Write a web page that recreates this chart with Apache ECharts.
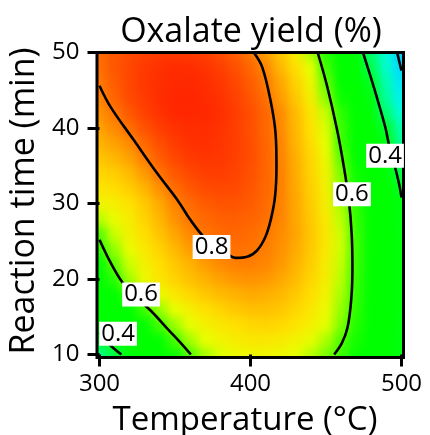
<!DOCTYPE html>
<html><head><meta charset="utf-8">
<script src="https://cdn.jsdelivr.net/npm/echarts@6/dist/echarts.min.js"></script>
<style>
html,body{margin:0;padding:0;background:#fff;width:430px;height:435px;overflow:hidden}
#clip{position:absolute;left:98px;top:54px;width:305px;height:302px;overflow:hidden}
#bg{position:absolute;left:-98px;top:-54px;width:430px;height:435px;filter:blur(5px)}
#fg{position:absolute;left:0;top:0;width:430px;height:435px}
</style></head><body>
<div id="clip"><div id="bg"></div></div>
<div id="fg"></div>
<script>
// ---- data ----
const temperatures = [300,310,320,330,340,350,360,370,380,390,400,410,420,430,440,450,460,470,480,490,500];
const reactionTimes = [10,12,14,16,18,20,22,24,26,28,30,32,34,36,38,40,42,44,46,48,50];
// oxalate yield, one row per reaction time (10 .. 50 min), columns = temperatures
const oxalateYield = [
 [0.345,0.378,0.421,0.467,0.512,0.556,0.598,0.628,0.646,0.658,0.664,0.665,0.660,0.650,0.635,0.614,0.588,0.553,0.510,0.460,0.405],
 [0.390,0.428,0.468,0.508,0.552,0.594,0.628,0.650,0.667,0.680,0.688,0.690,0.684,0.672,0.655,0.631,0.601,0.562,0.516,0.463,0.410],
 [0.420,0.465,0.510,0.552,0.592,0.625,0.651,0.672,0.688,0.700,0.709,0.714,0.708,0.695,0.675,0.649,0.616,0.572,0.521,0.468,0.415],
 [0.452,0.497,0.543,0.587,0.623,0.652,0.676,0.697,0.714,0.727,0.736,0.736,0.728,0.712,0.690,0.660,0.623,0.577,0.525,0.472,0.420],
 [0.480,0.532,0.585,0.628,0.660,0.687,0.709,0.727,0.741,0.751,0.758,0.755,0.745,0.727,0.702,0.670,0.630,0.581,0.528,0.473,0.420],
 [0.505,0.575,0.628,0.662,0.690,0.714,0.735,0.752,0.765,0.774,0.778,0.773,0.761,0.741,0.713,0.678,0.635,0.584,0.529,0.473,0.420],
 [0.540,0.604,0.640,0.672,0.700,0.727,0.750,0.770,0.784,0.793,0.795,0.788,0.774,0.752,0.721,0.683,0.638,0.586,0.531,0.475,0.420],
 [0.578,0.622,0.655,0.686,0.715,0.744,0.770,0.790,0.803,0.808,0.806,0.795,0.780,0.758,0.727,0.688,0.642,0.589,0.533,0.476,0.420],
 [0.600,0.640,0.672,0.702,0.732,0.762,0.787,0.805,0.816,0.820,0.814,0.800,0.785,0.763,0.729,0.688,0.641,0.587,0.530,0.472,0.415],
 [0.635,0.655,0.680,0.715,0.748,0.778,0.801,0.817,0.826,0.828,0.823,0.810,0.790,0.762,0.727,0.685,0.636,0.582,0.525,0.467,0.410],
 [0.665,0.678,0.697,0.725,0.758,0.791,0.816,0.833,0.841,0.841,0.833,0.816,0.792,0.761,0.723,0.679,0.629,0.575,0.518,0.461,0.405],
 [0.690,0.702,0.720,0.748,0.780,0.812,0.835,0.850,0.855,0.852,0.840,0.820,0.793,0.759,0.719,0.674,0.623,0.567,0.510,0.453,0.395],
 [0.710,0.722,0.742,0.772,0.806,0.835,0.855,0.866,0.868,0.861,0.846,0.823,0.793,0.757,0.715,0.668,0.615,0.557,0.497,0.438,0.377],
 [0.730,0.745,0.765,0.795,0.830,0.855,0.871,0.878,0.876,0.866,0.849,0.824,0.792,0.755,0.712,0.662,0.605,0.545,0.485,0.425,0.360],
 [0.750,0.765,0.785,0.818,0.848,0.870,0.882,0.885,0.880,0.868,0.849,0.823,0.790,0.750,0.704,0.650,0.589,0.529,0.467,0.402,0.332],
 [0.765,0.785,0.811,0.843,0.866,0.882,0.889,0.889,0.882,0.868,0.847,0.820,0.787,0.746,0.699,0.646,0.586,0.525,0.460,0.390,0.315],
 [0.778,0.801,0.835,0.862,0.882,0.895,0.898,0.895,0.886,0.870,0.849,0.821,0.785,0.743,0.694,0.639,0.577,0.508,0.433,0.358,0.275],
 [0.789,0.823,0.851,0.873,0.888,0.896,0.898,0.893,0.882,0.865,0.840,0.810,0.772,0.729,0.678,0.621,0.558,0.488,0.411,0.328,0.239],
 [0.800,0.831,0.856,0.875,0.887,0.894,0.895,0.889,0.876,0.857,0.832,0.800,0.762,0.717,0.666,0.608,0.544,0.473,0.395,0.311,0.221],
 [0.809,0.837,0.858,0.874,0.885,0.890,0.889,0.882,0.868,0.848,0.821,0.788,0.748,0.702,0.650,0.590,0.525,0.453,0.374,0.289,0.197],
 [0.815,0.836,0.852,0.864,0.872,0.875,0.873,0.865,0.850,0.830,0.802,0.769,0.729,0.683,0.631,0.572,0.508,0.436,0.359,0.275,0.185]
];
// contour lines [temperature, time]
const contour08 = [[300,45.6],[307.3,42.8],[322.7,38.4],[338.2,34.0],[351.5,30.5],[360.3,27.8],[370.6,25.2],[378,24.1],[384.6,23.3],[390,22.8],[397.8,22.95],[404.4,23.8],[409.9,25.6],[413.6,28],[416.3,31],[417.2,34.9],[416.6,39.3],[413.2,43.7],[407.7,48.1],[402.2,50]];
const contour06Left = [[300,25.2],[307,22.3],[315,19.6],[324,17.6],[334,15.8],[346,13.2],[353,11.7],[360.5,10]];
const contour06Right = [[444.5,50],[450.8,45.5],[457.4,39.7],[461.8,34.9],[465.1,30.5],[467,26],[467.5,21.6],[466.8,17.5],[464.3,13.6],[460.5,11.5],[455.4,10]];
const contour04Left = [[300,12.9],[304,12],[308.4,11],[314.5,10]];
const contour04Right = [[474.5,50],[480,46.5],[484.5,43.5],[489.4,40],[492,37.5],[495.5,35],[498.5,32.5],[500,30.8]];
const contour02 = [[497.1,50],[500,47.6]];
const labelTemps = [374.2,327.5,312.3,467.2,489.1];
const labelTimes = [24.5,18.2,13.0,31.5,36.6];
const labelTexts = ['0.8','0.6','0.4','0.6','0.4'];
const xTicks = [300,400,500];
const yTicks = [10,20,30,40,50];

// ---- build ----
const FONT = 'Open Sans';
const gridMain = {left:99.5, top:52.5, width:302, height:302, outerBoundsMode:'none', containLabel:false};
const cells = [];
reactionTimes.forEach((t,j)=>temperatures.forEach((T,i)=>cells.push([T,t,oxalateYield[j][i]])));
const dT = temperatures[1]-temperatures[0], dt = reactionTimes[1]-reactionTimes[0];
const Tmin = temperatures[0], Tmax = temperatures[temperatures.length-1];
const tmin = reactionTimes[0], tmax = reactionTimes[reactionTimes.length-1];

const bg = echarts.init(document.getElementById('bg'));
bg.setOption({
  animation:false,
  grid:Object.assign({show:false}, gridMain),
  xAxis:{type:'value', min:xTicks[0], max:xTicks[xTicks.length-1], show:false},
  yAxis:{type:'value', min:yTicks[0], max:yTicks[yTicks.length-1], show:false},
  visualMap:{type:'continuous', show:false, min:0.15, max:0.9, dimension:2, seriesIndex:0,
    inRange:{color:['#00b0ff','#00d8ff','#00f8f0','#00ffc0','#00ff80','#00ff10','#00ff00','#00ff00','#00ff00','#50ff00','#e8ff00','#ffe000','#ffb400','#ff7800','#ff4c00','#ff2400']}},
  series:[{
    type:'custom', data:cells, encode:{x:0,y:1},
    renderItem:function(params, api){
      const T = api.value(0), t = api.value(1);
      const p = api.coord([T,t]);
      const s = api.size([dT,dt]);
      let x0 = p[0]-s[0]/2, x1 = p[0]+s[0]/2, y0 = p[1]-s[1]/2, y1 = p[1]+s[1]/2;
      if (T===Tmin) x0 -= 24;
      if (T===Tmax) x1 += 24;
      if (t===tmin) y1 += 24;
      if (t===tmax) y0 -= 24;
      return {type:'rect', shape:{x:x0-0.4, y:y0-0.4, width:x1-x0+0.8, height:y1-y0+0.8}, style:{fill:api.visual('color')}};
    }
  }]
});

const fg = echarts.init(document.getElementById('fg'));
const lineSeries = [contour08, contour06Left, contour06Right, contour04Left, contour04Right, contour02].map(c=>({
  type:'line', data:c, smooth:0.35, symbol:'none', silent:true, z:5,
  lineStyle:{color:'#000', width:2.6}
}));
fg.setOption({
  animation:false,
  textStyle:{fontFamily:FONT},
  title:{text:'Oxalate yield (%)', left:246, top:10, textAlign:'center',
    textStyle:{fontSize:34, fontWeight:'normal', color:'#000', fontFamily:FONT}},
  grid:[Object.assign({show:false}, gridMain),
        {left:97, top:52.5, width:306.5, height:305, show:true, borderColor:'#000', borderWidth:3, backgroundColor:'transparent', outerBoundsMode:'none'}],
  xAxis:[{gridIndex:0, type:'value', min:xTicks[0], max:xTicks[xTicks.length-1], interval:100,
      axisLine:{show:false}, splitLine:{show:false},
      axisTick:{show:true, length:12, lineStyle:{width:3, color:'#000'}},
      axisLabel:{show:true, fontSize:24, color:'#000', margin:18, fontFamily:FONT},
      name:'Temperature (°C)', nameLocation:'middle', nameGap:50,
      nameTextStyle:{fontSize:33, color:'#000', fontFamily:FONT, padding:[0,11,0,0]}},
    {gridIndex:1, type:'value', min:0, max:1, show:false}],
  yAxis:[{gridIndex:0, type:'value', min:yTicks[0], max:yTicks[yTicks.length-1], interval:10,
      axisLine:{show:false}, splitLine:{show:false},
      axisTick:{show:true, length:12, lineStyle:{width:3, color:'#000'}},
      axisLabel:{show:true, fontSize:24, color:'#000', margin:20, fontFamily:FONT},
      name:'Reaction time (min)', nameLocation:'middle', nameGap:51,
      nameTextStyle:{fontSize:34, color:'#000', fontFamily:FONT, padding:[0,0,0,5]}},
    {gridIndex:1, type:'value', min:0, max:1, show:false}],
  series:lineSeries.concat([{
    type:'scatter', xAxisIndex:0, yAxisIndex:0, symbolSize:1, silent:true, z:10,
    itemStyle:{color:'rgba(0,0,0,0)', opacity:1},
    data:labelTemps.map((T,i)=>({value:[T,labelTimes[i]], label:{formatter:labelTexts[i]}})),
    label:{show:true, position:'inside', color:'#000', backgroundColor:'#fff', padding:[1,2,0,2],
      fontSize:24, lineHeight:23, fontFamily:FONT, offset:[0,2]}
  }])
});
</script></body></html>
